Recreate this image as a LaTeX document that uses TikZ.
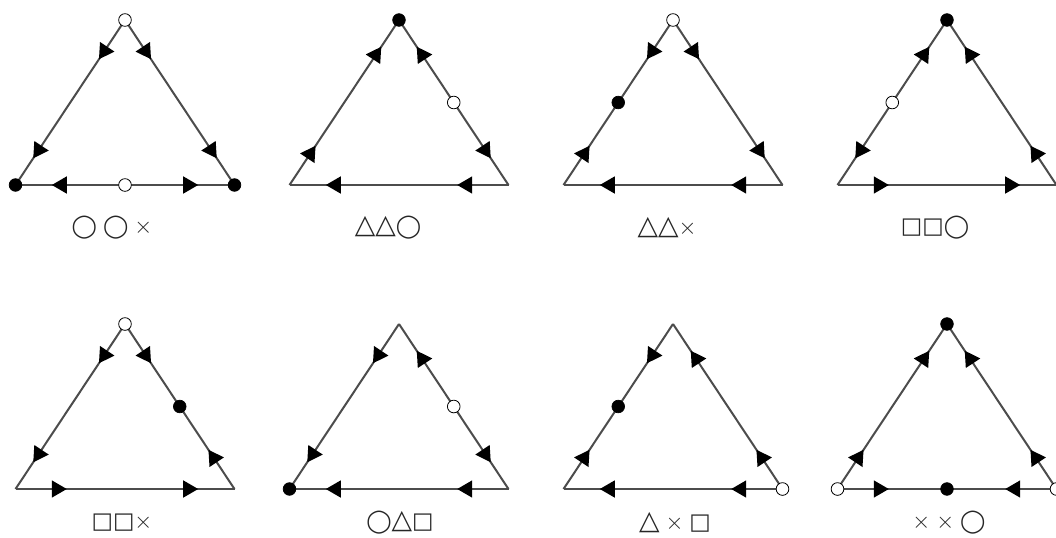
\documentclass[tikz,border=0pt]{standalone}
\usepackage{fontspec}
\newfontfamily\symfont{DejaVu Sans}
\usepackage{tikz}
\usetikzlibrary{decorations.markings, calc}
\tikzset{
  edge/.style={draw=black!70, line width=1.5pt},
  fw/.style={postaction={decorate, decoration={markings, mark=at position #1 with {\fill[black] (5.6pt,0) -- (-5.6pt,6.5pt) -- (-5.6pt,-6.5pt) -- cycle;}}}},
  bw/.style={postaction={decorate, decoration={markings, mark=at position #1 with {\fill[black] (-5.6pt,0) -- (5.6pt,6.5pt) -- (5.6pt,-6.5pt) -- cycle;}}}},
  sink/.style={circle, fill=black, draw=black, line width=0.5pt, inner sep=0pt, minimum size=9.5pt},
  source/.style={circle, fill=white, draw=black, line width=0.6pt, inner sep=0pt, minimum size=9.5pt},
  lab/.style={font=\symfont\fontsize{14}{14}\selectfont, text=black!85, inner sep=0pt},
}
% apex and the two base corners of one simplex
\newcommand{\corners}[3]{%
  \coordinate (#1T) at (#2,#3);
  \coordinate (#1L) at (#2-109.5,#3+165);
  \coordinate (#1R) at (#2+109.5,#3+165);
}
% label glyphs
\newcommand{\gcirc}{{\fontsize{17}{14}\selectfont ◯}}
\newcommand{\gtri}{{\fontsize{20}{14}\selectfont △}}
\newcommand{\gsq}{{\fontsize{17}{14}\selectfont □}}
\newcommand{\gx}{{\fontsize{17}{14}\selectfont$\times$}}
\begin{document}
\begin{tikzpicture}[x=0.75pt, y=-0.75pt]
\useasboundingbox (0,0) rectangle (1056,537);

% top row
\corners{p1}{125}{20}
\draw[edge, fw=0.2, fw=0.8] (p1T) -- (p1L);
\draw[edge, fw=0.2, fw=0.8] (p1T) -- (p1R);
\draw[edge, bw=0.2, fw=0.8] (p1L) -- (p1R);
\node[source] (p1a) at (p1T) {};
\node[sink] (p1b) at (p1L) {};
\node[sink] (p1c) at (p1R) {};
\node[source] (p1d) at ($(p1L)!0.5!(p1R)$) {};
\node[lab] (p1lab) at (112,228) {\gcirc\ \gcirc\ \gx};

\corners{p2}{399}{20}
\draw[edge, bw=0.2, bw=0.8] (p2T) -- (p2L);
\draw[edge, bw=0.2, fw=0.8] (p2T) -- (p2R);
\draw[edge, bw=0.2, bw=0.8] (p2L) -- (p2R);
\node[sink] (p2a) at (p2T) {};
\node[source] (p2b) at ($(p2T)!0.5!(p2R)$) {};
\node[lab] (p2lab) at (388,228) {\gtri\gtri\gcirc};

\corners{p3}{673}{20}
\draw[edge, fw=0.2, bw=0.8] (p3T) -- (p3L);
\draw[edge, fw=0.2, fw=0.8] (p3T) -- (p3R);
\draw[edge, bw=0.2, bw=0.8] (p3L) -- (p3R);
\node[source] (p3a) at (p3T) {};
\node[sink] (p3b) at ($(p3T)!0.5!(p3L)$) {};
\node[lab] (p3lab) at (667,228) {\gtri\gtri\gx};

\corners{p4}{947}{20}
\draw[edge, bw=0.2, fw=0.8] (p4T) -- (p4L);
\draw[edge, bw=0.2, bw=0.8] (p4T) -- (p4R);
\draw[edge, fw=0.2, fw=0.8] (p4L) -- (p4R);
\node[sink] (p4a) at (p4T) {};
\node[source] (p4b) at ($(p4T)!0.5!(p4L)$) {};
\node[lab] (p4lab) at (935,228) {\gsq\gsq\gcirc};

% bottom row
\corners{p5}{125}{324}
\draw[edge, fw=0.2, fw=0.8] (p5T) -- (p5L);
\draw[edge, fw=0.2, bw=0.8] (p5T) -- (p5R);
\draw[edge, fw=0.2, fw=0.8] (p5L) -- (p5R);
\node[source] (p5a) at (p5T) {};
\node[sink] (p5b) at ($(p5T)!0.5!(p5R)$) {};
\node[lab] (p5lab) at (122,523) {\gsq\gsq\gx};

\corners{p6}{399}{324}
\draw[edge, fw=0.2, fw=0.8] (p6T) -- (p6L);
\draw[edge, bw=0.2, fw=0.8] (p6T) -- (p6R);
\draw[edge, bw=0.2, bw=0.8] (p6L) -- (p6R);
\node[sink] (p6a) at (p6L) {};
\node[source] (p6b) at ($(p6T)!0.5!(p6R)$) {};
\node[lab] (p6lab) at (400,523) {\gcirc\gtri\gsq};

\corners{p7}{673}{324}
\draw[edge, fw=0.2, bw=0.8] (p7T) -- (p7L);
\draw[edge, bw=0.2, bw=0.8] (p7T) -- (p7R);
\draw[edge, bw=0.2, bw=0.8] (p7L) -- (p7R);
\node[sink] (p7a) at ($(p7T)!0.5!(p7L)$) {};
\node[source] (p7b) at (p7R) {};
\node[lab] (p7lab) at (675,523) {\gtri\ \gx\ \gsq};

\corners{p8}{947}{324}
\draw[edge, bw=0.2, bw=0.8] (p8T) -- (p8L);
\draw[edge, bw=0.2, bw=0.8] (p8T) -- (p8R);
\draw[edge, fw=0.2, bw=0.8] (p8L) -- (p8R);
\node[sink] (p8a) at (p8T) {};
\node[source] (p8b) at (p8L) {};
\node[source] (p8c) at (p8R) {};
\node[sink] (p8d) at ($(p8L)!0.5!(p8R)$) {};
\node[lab] (p8lab) at (949,523) {\gx\ \gx\ \gcirc};
\end{tikzpicture}
\end{document}
